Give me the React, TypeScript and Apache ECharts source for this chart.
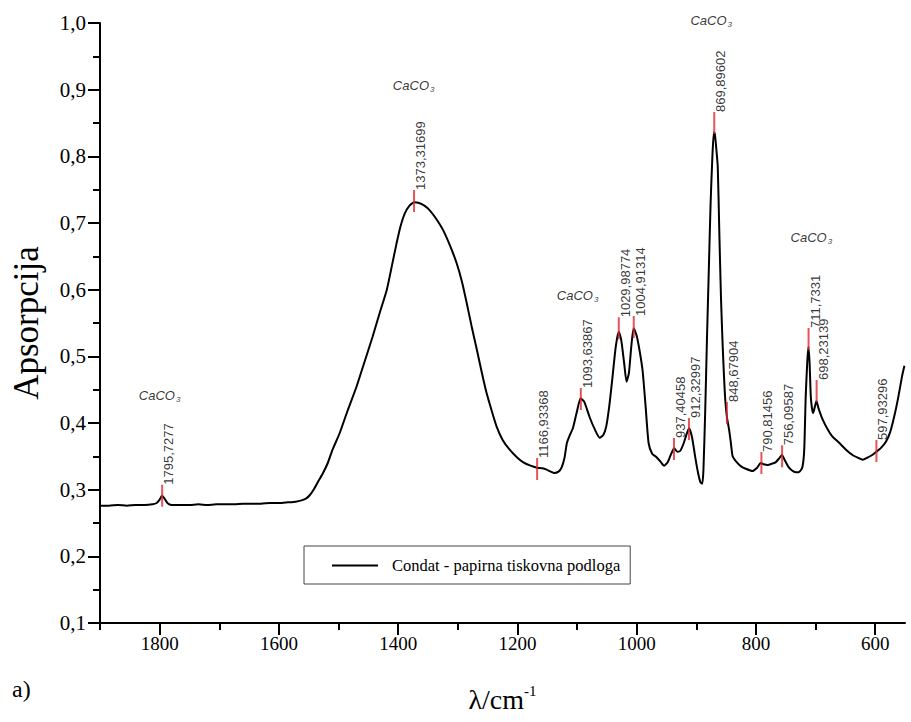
import React, { useEffect, useRef } from 'react';
import * as echarts from 'echarts';

// Spectrum (wavenumber, absorbance)
const wavenumbers = [
  1900, 1885, 1870, 1855, 1840, 1825, 1812, 1805, 1800, 1796, 1792, 1787, 1780, 1765, 1750, 1735, 1720, 1705,
  1690, 1675, 1660, 1645, 1630, 1615, 1600, 1585, 1572, 1562, 1554, 1548, 1541, 1533, 1526, 1518, 1510, 1498,
  1485, 1470, 1457, 1443, 1431, 1419, 1410, 1403, 1396, 1389, 1381, 1373, 1365, 1356, 1347, 1336, 1325, 1313,
  1302, 1293, 1285, 1277, 1268, 1260, 1252, 1243, 1235, 1225, 1213, 1200, 1190, 1178, 1167, 1158, 1151, 1144,
  1138, 1131, 1126, 1121, 1117, 1112, 1107, 1100, 1094, 1088, 1079, 1070, 1062, 1056, 1051, 1046, 1041, 1035,
  1030, 1026, 1021, 1017, 1013, 1009, 1005, 1000, 995, 990, 985, 980, 974, 967, 960, 954, 948, 942, 937, 932,
  927, 921, 916, 912, 907, 902, 897, 893, 890, 888, 885, 882, 879, 876, 873, 870.5, 869, 866.5, 864, 861.5,
  858.5, 855.5, 853, 851, 848.5, 845, 842, 839, 833, 825, 816, 806, 798, 792, 787, 780, 773, 767, 761, 756.5,
  752, 746, 740, 733, 727, 722, 719, 716.5, 714, 712, 710, 708, 706, 704, 701, 698.5, 695, 688, 680, 672, 660,
  649, 638, 629, 621, 613, 605, 598, 591, 582, 575, 568, 561, 555, 551
];
const absorbance = [
  0.276, 0.276, 0.277, 0.276, 0.277, 0.277, 0.278, 0.28, 0.285, 0.291, 0.287, 0.28, 0.277, 0.277, 0.277, 0.278, 0.277, 0.278,
  0.278, 0.278, 0.279, 0.279, 0.279, 0.28, 0.28, 0.281, 0.282, 0.284, 0.287, 0.292, 0.301, 0.314, 0.325, 0.34, 0.36, 0.385,
  0.418, 0.454, 0.49, 0.529, 0.565, 0.6, 0.638, 0.668, 0.695, 0.714, 0.726, 0.731, 0.73, 0.726, 0.719, 0.706, 0.69, 0.666,
  0.64, 0.612, 0.58, 0.546, 0.51, 0.477, 0.446, 0.418, 0.395, 0.375, 0.36, 0.348, 0.341, 0.336, 0.333, 0.332, 0.33, 0.327,
  0.325, 0.327, 0.333, 0.348, 0.37, 0.382, 0.392, 0.418, 0.437, 0.432, 0.409, 0.39, 0.378, 0.382, 0.395, 0.425, 0.465, 0.515,
  0.537, 0.525, 0.49, 0.462, 0.475, 0.515, 0.542, 0.531, 0.508, 0.478, 0.425, 0.37, 0.354, 0.349, 0.342, 0.336, 0.341, 0.354, 0.362, 0.357,
  0.358, 0.37, 0.384, 0.392, 0.378, 0.35, 0.325, 0.311, 0.309, 0.33, 0.42, 0.53, 0.63, 0.73, 0.8, 0.836, 0.834, 0.812, 0.784, 0.69,
  0.585, 0.51, 0.46, 0.43, 0.408, 0.39, 0.37, 0.35, 0.342, 0.335, 0.331, 0.328, 0.333, 0.34, 0.338, 0.337, 0.339, 0.341, 0.347, 0.352,
  0.345, 0.335, 0.329, 0.326, 0.327, 0.334, 0.36, 0.44, 0.49, 0.514, 0.49, 0.44, 0.422, 0.415, 0.425, 0.433, 0.422, 0.405, 0.391, 0.38, 0.37,
  0.36, 0.352, 0.348, 0.345, 0.348, 0.352, 0.357, 0.362, 0.372, 0.386, 0.41, 0.44, 0.47, 0.486
];

// Labelled peaks (red markers) and the absorbance at each marker's centre
const peakWavenumbers = [
  1795.7277, 1373.31699, 1166.93368, 1093.63867, 1029.98774, 1004.91314, 937.40458, 912.32997,
  869.89602, 848.67904, 790.81456, 756.09587, 711.7331, 698.23139, 597.93296
];
const peakMarkerY = [
  0.291, 0.733, 0.331, 0.436, 0.542, 0.544, 0.361, 0.391,
  0.85, 0.415, 0.34, 0.35, 0.526, 0.448, 0.358
];

// CaCO3 annotations
const caco3X = [1800, 1374, 1099, 875, 707];
const caco3Y = [0.442, 0.907, 0.592, 1.004, 0.679];

const xMajorTicks = [600, 800, 1000, 1200, 1400, 1600, 1800];
const xMinorTicks = [700, 900, 1100, 1300, 1500, 1700, 1900];

const seriesName = 'Condat - papirna tiskovna podloga';

export default function App() {
  const ref = useRef<HTMLDivElement>(null);
  useEffect(() => {
    document.body.style.margin = '0';
    const chart = echarts.init(ref.current!, null, { renderer: 'svg' });
    const serif = "'Liberation Serif', 'Times New Roman', serif";
    const sans = "'Liberation Sans', Arial, sans-serif";
    const lineData = wavenumbers.map((w, i) => [w, absorbance[i]]);
    const peakData = peakWavenumbers.map((w, i) => ({
      value: [w, peakMarkerY[i]],
      name: String(w).replace('.', ','),
    }));
    const caco3Data = caco3X.map((w, i) => [w, caco3Y[i]]);
    const axisLine = { show: true, onZero: false, lineStyle: { color: '#000', width: 2 } };
    chart.setOption({
      animation: false,
      backgroundColor: '#fff',
      grid: { left: 100, right: 6, top: 23, bottom: 99 },
      legend: {
        left: 304,
        top: 546,
        orient: 'horizontal',
        borderColor: '#444',
        borderWidth: 1,
        borderRadius: 0,
        padding: [11, 10, 10, 28],
        itemWidth: 46,
        itemHeight: 2,
        textStyle: { fontFamily: serif, fontSize: 16.5, color: '#000', padding: [0, 0, 0, 9] },
        data: [{ name: seriesName, icon: 'rect', itemStyle: { color: '#000' } }],
      },
      xAxis: [
        {
          type: 'value',
          min: 550,
          max: 1900,
          inverse: true,
          position: 'bottom',
          axisLine,
          axisTick: { show: true, length: 12, customValues: xMajorTicks, lineStyle: { color: '#000', width: 2 } },
          axisLabel: {
            customValues: xMajorTicks,
            color: '#000',
            fontFamily: serif,
            fontSize: 19,
            margin: 11,
            formatter: (v: number) => String(v),
          },
          splitLine: { show: false },
          name: '{a|λ/cm}{b|-1}',
          nameLocation: 'middle',
          nameGap: 60,
          nameTextStyle: {
            rich: {
              a: { fontFamily: serif, fontSize: 28, color: '#000', lineHeight: 32 },
              b: { fontFamily: serif, fontSize: 15, color: '#000', lineHeight: 32, verticalAlign: 'top', padding: [0, 0, 14, 0] },
            },
          },
        },
        {
          type: 'value',
          min: 550,
          max: 1900,
          inverse: true,
          position: 'bottom',
          axisLine: { show: false, onZero: false },
          axisTick: { show: true, length: 7, customValues: xMinorTicks, lineStyle: { color: '#000', width: 2 } },
          axisLabel: { show: false },
          splitLine: { show: false },
        },
      ],
      yAxis: {
        type: 'value',
        min: 0.1,
        max: 1.0,
        interval: 0.1,
        axisLine,
        axisTick: { show: true, length: 12, lineStyle: { color: '#000', width: 2 } },
        minorTick: { show: true, splitNumber: 2, length: 7, lineStyle: { color: '#000', width: 2 } },
        axisLabel: {
          color: '#000',
          fontFamily: serif,
          fontSize: 21,
          margin: 14,
          formatter: (v: number) => v.toFixed(1).replace('.', ','),
        },
        splitLine: { show: false },
        name: 'Apsorpcija',
        nameLocation: 'middle',
        nameRotate: 90,
        nameGap: 56,
        nameTextStyle: { fontFamily: serif, fontSize: 35, color: '#000' },
      },
      graphic: [
        { type: 'text', left: 12, top: 677, style: { text: 'a)', font: "24px 'Liberation Serif'", fill: '#000' } },
      ],
      series: [
        {
          name: seriesName,
          type: 'line',
          data: lineData,
          showSymbol: false,
          smooth: 0.2,
          color: '#000',
          lineStyle: { color: '#000', width: 2 },
          z: 3,
        },
        {
          name: 'peaks',
          type: 'scatter',
          data: peakData,
          symbol: 'rect',
          symbolSize: [2, 22],
          itemStyle: { color: '#e0282e' },
          clip: false,
          silent: true,
          z: 4,
          label: {
            show: true,
            position: 'top',
            distance: 0,
            rotate: 90,
            align: 'left',
            verticalAlign: 'top',
            formatter: '{b}',
            fontFamily: sans,
            fontSize: 13,
            color: '#000',
          },
        },
        {
          name: 'caco3',
          type: 'scatter',
          data: caco3Data,
          symbolSize: 0,
          clip: false,
          silent: true,
          z: 5,
          label: {
            show: true,
            position: 'inside',
            formatter: '{a|CaCO}{b|3}',
            rich: {
              a: { fontFamily: sans, fontStyle: 'italic', fontSize: 13, color: '#000', lineHeight: 16 },
              b: { fontFamily: sans, fontStyle: 'italic', fontSize: 8, color: '#000', lineHeight: 16, verticalAlign: 'bottom', padding: [6, 0, 0, 1] },
            },
          },
        },
      ],
    });
    return () => chart.dispose();
  }, []);
  return <div ref={ref} style={{ position: 'absolute', left: 0, top: 0, width: 911, height: 722 }} />;
}
